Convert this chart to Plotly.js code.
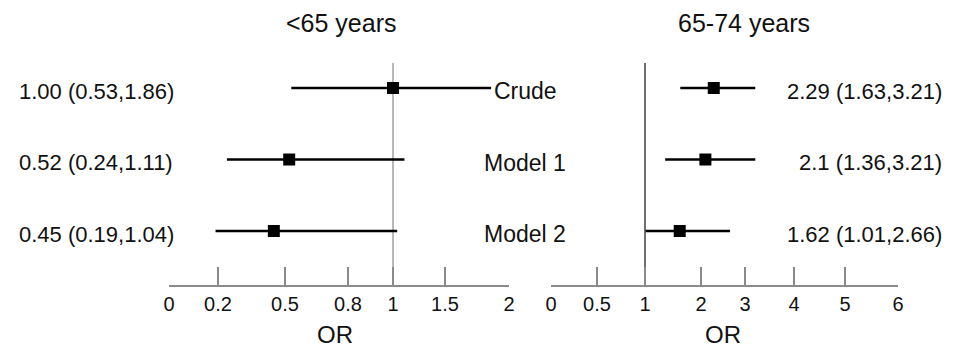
<!DOCTYPE html>
<html>
<head>
<meta charset="utf-8">
<script src="https://cdn.plot.ly/plotly-3.0.1.min.js"></script>
<style>html,body{margin:0;padding:0;background:#fff;}#chart{width:960px;height:349px;}</style>
</head>
<body>
<div id="chart"></div>
<script>
// ---- data ----
const models = ["Crude", "Model 1", "Model 2"];
const under65_or = [1.00, 0.52, 0.45];
const under65_lo = [0.53, 0.24, 0.19];
const under65_hi = [1.86, 1.11, 1.04];
const under65_labels = ["1.00 (0.53,1.86)", "0.52 (0.24,1.11)", "0.45 (0.19,1.04)"];
const age6574_or = [2.29, 2.1, 1.62];
const age6574_lo = [1.63, 1.36, 1.01];
const age6574_hi = [3.21, 3.21, 2.66];
const age6574_labels = ["2.29 (1.63,3.21)", "2.1 (1.36,3.21)", "1.62 (1.01,2.66)"];
const leftTicks = [0, 0.2, 0.5, 0.8, 1, 1.5, 2];
const rightTicks = [0, 0.5, 1, 2, 3, 4, 5, 6];
const panelTitles = ["<65 years", "65-74 years"];
const axisLabel = "OR";

// ---- axis scales (piecewise, as printed in the original figure) ----
const leftScale = {ticks: leftTicks, pos: [0, 49, 116, 179, 224, 276, 340]};
const rightScale = {ticks: rightTicks, pos: [0, 46, 94, 150, 194, 243, 294, 347]};
function scalePos(s, v) {
  const t = s.ticks, p = s.pos;
  for (let i = 0; i < t.length - 1; i++) {
    if (v <= t[i + 1] || i === t.length - 2) {
      return p[i] + (v - t[i]) / (t[i + 1] - t[i]) * (p[i + 1] - p[i]);
    }
  }
}
function panelTrace(scale, est, lo, hi, xa) {
  const x = est.map(v => scalePos(scale, v));
  return {
    type: "scatter", mode: "markers", xaxis: xa, yaxis: "y",
    x: x, y: models.map((m, i) => i),
    marker: {symbol: "square", size: 12, color: "#000"},
    error_x: {
      type: "data", symmetric: false,
      array: hi.map((v, i) => scalePos(scale, v) - x[i]),
      arrayminus: lo.map((v, i) => x[i] - scalePos(scale, v)),
      thickness: 2.6, width: 0, color: "#000"
    },
    cliponaxis: false, hoverinfo: "skip", showlegend: false
  };
}

const FONT = "Liberation Sans, Arial, sans-serif";
const traces = [
  panelTrace(leftScale, under65_or, under65_lo, under65_hi, "x"),
  panelTrace(rightScale, age6574_or, age6574_lo, age6574_hi, "x2")
];

const axisCommon = {
  showline: true, linecolor: "#8a8a8a", linewidth: 1.5,
  ticks: "inside", ticklen: 18, tickwidth: 1.5, tickcolor: "#8a8a8a",
  showgrid: false, zeroline: false, tickmode: "array",
  tickfont: {family: FONT, size: 20, color: "#111"},
  anchor: "y", fixedrange: true
};

const annotations = [];
models.forEach((m, i) => {
  annotations.push({xref: "paper", yref: "y", x: 96 / 960, y: i, yshift: -3, text: under65_labels[i],
    showarrow: false, xanchor: "center", yanchor: "middle", font: {family: FONT, size: 22, color: "#111"}});
  annotations.push({xref: "paper", yref: "y", x: 525 / 960, y: i, yshift: -3, text: m,
    showarrow: false, xanchor: "center", yanchor: "middle", font: {family: FONT, size: 23, color: "#111"}});
  annotations.push({xref: "paper", yref: "y", x: 944 / 960, y: i, yshift: -3, text: age6574_labels[i],
    showarrow: false, xanchor: "right", yanchor: "middle", font: {family: FONT, size: 22, color: "#111"}});
});
annotations.push({xref: "paper", yref: "paper", x: 284 / 960, y: 1 - 23 / 349, text: panelTitles[0],
  showarrow: false, xanchor: "left", yanchor: "middle", font: {family: FONT, size: 25, color: "#111"}});
annotations.push({xref: "paper", yref: "paper", x: 676 / 960, y: 1 - 23 / 349, text: panelTitles[1],
  showarrow: false, xanchor: "left", yanchor: "middle", font: {family: FONT, size: 25, color: "#111"}});
annotations.push({xref: "paper", yref: "paper", x: 335 / 960, y: 0, text: axisLabel,
  showarrow: false, xanchor: "center", yanchor: "bottom", borderpad: 0, font: {family: FONT, size: 24, color: "#111"}});
annotations.push({xref: "paper", yref: "paper", x: 723 / 960, y: 0, text: axisLabel,
  showarrow: false, xanchor: "center", yanchor: "bottom", borderpad: 0, font: {family: FONT, size: 24, color: "#111"}});

const layout = {
  width: 960, height: 349,
  margin: {l: 0, r: 0, t: 0, b: 0},
  paper_bgcolor: "#fff", plot_bgcolor: "#fff",
  showlegend: false,
  xaxis: Object.assign({}, axisCommon, {
    domain: [169 / 960, 509 / 960], range: [0, 340],
    tickvals: leftScale.pos, ticktext: leftTicks.map(String)
  }),
  xaxis2: Object.assign({}, axisCommon, {
    domain: [551 / 960, 898 / 960], range: [0, 347],
    tickvals: rightScale.pos, ticktext: rightTicks.map(String)
  }),
  yaxis: {
    domain: [64 / 349, 1], range: [2.755, -1.2308],
    visible: false, fixedrange: true
  },
  shapes: [
    {type: "line", xref: "x", yref: "y", x0: scalePos(leftScale, 1), x1: scalePos(leftScale, 1),
     y0: -0.35, y1: 2.755, line: {color: "#a0a0a0", width: 1.5}, layer: "below"},
    {type: "line", xref: "x2", yref: "y", x0: scalePos(rightScale, 1), x1: scalePos(rightScale, 1),
     y0: -0.35, y1: 2.755, line: {color: "#222", width: 1.3}, layer: "below"}
  ],
  annotations: annotations,
  font: {family: FONT, color: "#111"}
};

Plotly.newPlot("chart", traces, layout, {displayModeBar: false, staticPlot: true});
</script>
</body>
</html>
